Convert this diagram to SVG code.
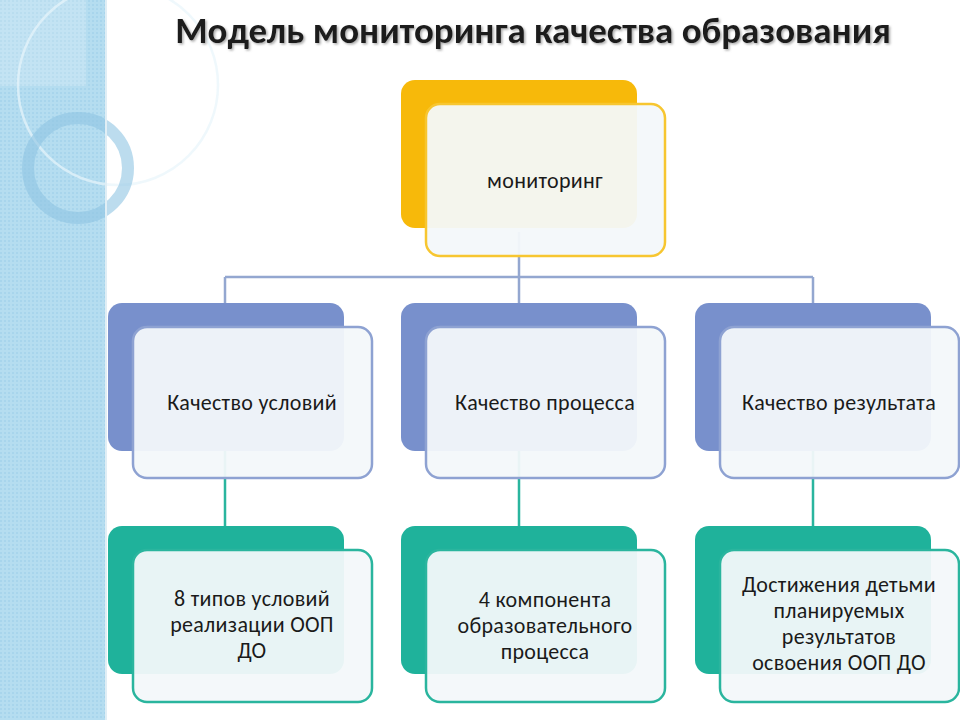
<svg xmlns="http://www.w3.org/2000/svg" width="960" height="720" viewBox="0 0 960 720">
<defs>
<pattern id="dots" width="4" height="4" patternUnits="userSpaceOnUse"><rect width="4" height="4" fill="#B5DDF0"/><rect width="2" height="2" fill="#A8D5EC"/></pattern>
<filter id="sh"><feDropShadow dx="1.5" dy="1.5" stdDeviation="1" flood-color="#888" flood-opacity="0.7"/></filter>
</defs>
<style>
text{font-family:Calibri,Carlito,"Open Sans","Liberation Sans",sans-serif;fill:#1a1a1a;text-anchor:middle}
.t{font-size:22px;letter-spacing:0.3px}
.conB{stroke:#94A7D0;stroke-width:2.5;fill:none}
.conG{stroke:#2AB59E;stroke-width:2.5;fill:none}
.fr{fill:#F3F8FA;fill-opacity:0.95;stroke-width:2.5}
</style>
<rect width="960" height="720" fill="#fff"/>
<g id="strip">
<rect width="106" height="720" fill="url(#dots)"/>
<rect x="0" y="0" width="86" height="86" fill="#fff" fill-opacity="0.2"/>
<circle cx="118" cy="85" r="100" fill="none" stroke="#E8F5FB" stroke-width="2.5" opacity="0.7"/>
<circle cx="78" cy="168" r="50" fill="none" stroke="#8FC5E2" stroke-width="12" opacity="0.6"/>
<line x1="106" y1="0" x2="106" y2="720" stroke="#E0EEF5" stroke-width="2"/>
</g>
<text x="533" y="43" font-size="37" font-weight="bold" filter="url(#sh)">Модель мониторинга качества образования</text>
<g id="connectors">
<path class="conB" d="M519 232V277M225 277H813M225 277V304M519 277V304M813 277V304"/>
<path class="conG" d="M225 451V527M519 451V527M813 451V527"/>
</g>
<g id="n-top">
<rect x="401" y="80" width="236" height="148" rx="14" fill="#F7B90A"/>
<rect class="fr" x="426" y="104" width="239" height="152" rx="14" stroke="#F7C630" fill="#FFFCF2"/>
<text class="t" x="545" y="188">мониторинг</text>
</g>
<g id="n-c1">
<rect x="108" y="303" width="236" height="148" rx="14" fill="#7890CC"/>
<rect class="fr" x="133" y="327" width="239" height="151" rx="14" stroke="#8EA2D2"/>
<text class="t" x="252" y="410">Качество условий</text>
</g>
<g id="n-c2">
<rect x="401" y="303" width="236" height="148" rx="14" fill="#7890CC"/>
<rect class="fr" x="426" y="327" width="239" height="151" rx="14" stroke="#8EA2D2"/>
<text class="t" x="545" y="410">Качество процесса</text>
</g>
<g id="n-c3">
<rect x="695" y="303" width="236" height="148" rx="14" fill="#7890CC"/>
<rect class="fr" x="720" y="327" width="239" height="151" rx="14" stroke="#8EA2D2"/>
<text class="t" x="839" y="410">Качество результата</text>
</g>
<g id="n-r1">
<rect x="108" y="526" width="236" height="148" rx="14" fill="#1FB29B"/>
<rect class="fr" x="133" y="550" width="239" height="152" rx="14" stroke="#2AB59E"/>
<text class="t" x="252" y="606">8 типов условий</text>
<text class="t" x="252" y="632">реализации ООП</text>
<text class="t" x="252" y="658">ДО</text>
</g>
<g id="n-r2">
<rect x="401" y="526" width="236" height="148" rx="14" fill="#1FB29B"/>
<rect class="fr" x="426" y="550" width="239" height="152" rx="14" stroke="#2AB59E"/>
<text class="t" x="545" y="607">4 компонента</text>
<text class="t" x="545" y="633">образовательного</text>
<text class="t" x="545" y="659">процесса</text>
</g>
<g id="n-r3">
<rect x="695" y="526" width="236" height="148" rx="14" fill="#1FB29B"/>
<rect class="fr" x="720" y="550" width="239" height="152" rx="14" stroke="#2AB59E"/>
<text class="t" x="839" y="592">Достижения детьми</text>
<text class="t" x="839" y="618">планируемых</text>
<text class="t" x="839" y="644">результатов</text>
<text class="t" x="839" y="670">освоения ООП ДО</text>
</g>
</svg>
